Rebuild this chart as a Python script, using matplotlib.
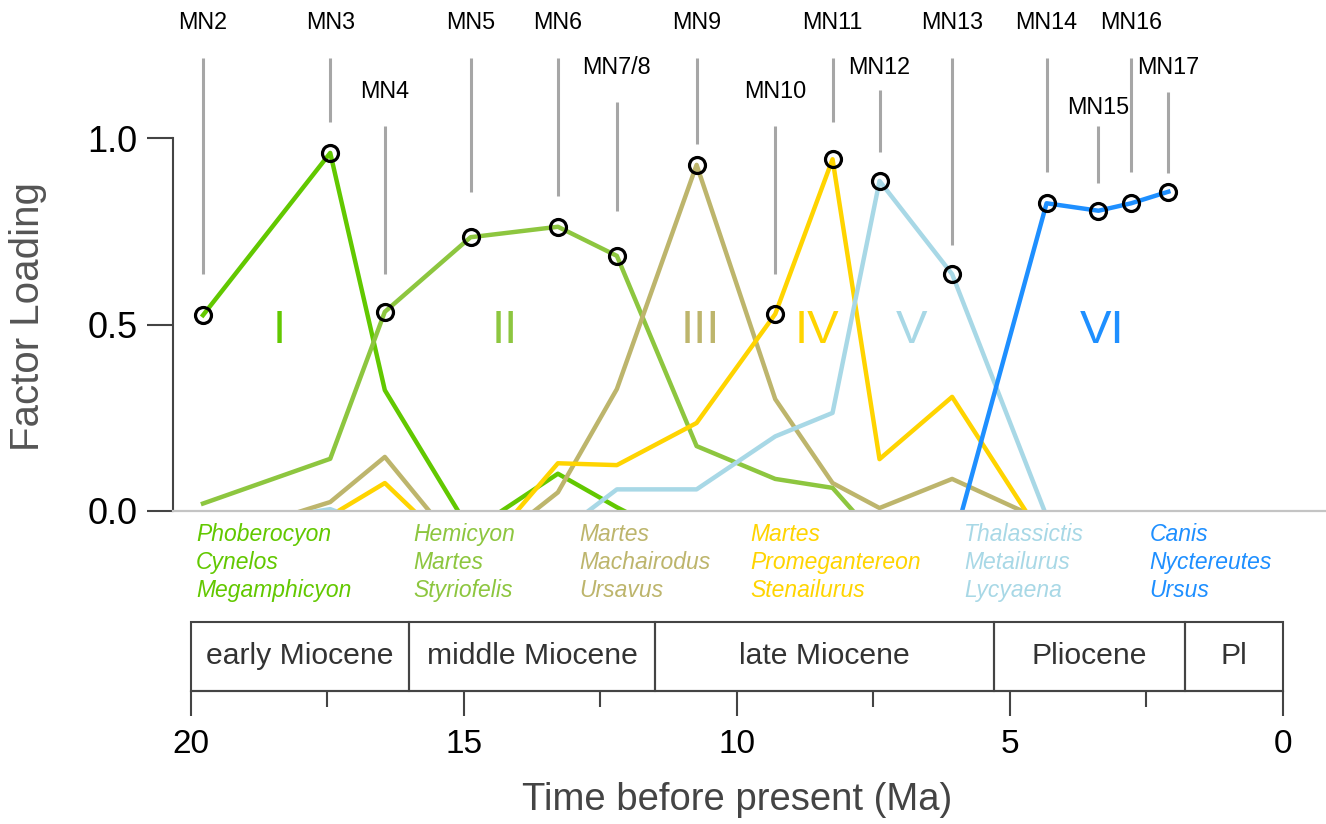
import numpy as np
import matplotlib.pyplot as plt
from matplotlib.patches import Rectangle

plt.rcParams['font.family'] = ['Liberation Sans', 'DejaVu Sans']

# MN zones: age (Ma), label height, guide line top/bottom (factor loading units)
mn_names = ['MN2', 'MN3', 'MN4', 'MN5', 'MN6', 'MN7/8', 'MN9', 'MN10',
            'MN11', 'MN12', 'MN13', 'MN14', 'MN15', 'MN16', 'MN17']
mn_age = [19.78, 17.45, 16.45, 14.88, 13.28, 12.2, 10.74, 9.30,
          8.25, 7.39, 6.06, 4.33, 3.38, 2.78, 2.10]
mn_label_y = [1.31, 1.31, 1.125, 1.31, 1.31, 1.19, 1.31, 1.125,
              1.31, 1.19, 1.31, 1.31, 1.083, 1.31, 1.19]
mn_line_top = [1.214, 1.214, 1.032, 1.214, 1.214, 1.097, 1.214, 1.032,
               1.214, 1.129, 1.214, 1.214, 1.032, 1.214, 1.123]
mn_line_bottom = [0.635, 1.043, 0.635, 0.855, 0.845, 0.804, 0.984, 0.635,
                  1.043, 0.962, 0.713, 0.909, 0.879, 0.909, 0.906]

# factor loadings per MN zone (negatives fall below the axis and are clipped)
factor_names = ['I', 'II', 'III', 'IV', 'V', 'VI']
factor_colors = ['#62c800', '#8dc63f', '#bdb56c', '#ffd400', '#a8d8e6', '#1e8fff']
load_I = [0.525, 0.96, 0.324, -0.055, 0.10, 0.01, -0.1, -0.1, -0.1, -0.1, -0.1, -0.1, -0.1, -0.1, -0.1]
load_II = [0.02, 0.14, 0.534, 0.734, 0.762, 0.684, 0.174, 0.086, 0.062, -0.08, -0.1, -0.1, -0.1, -0.1, -0.1]
load_III = [-0.083, 0.024, 0.145, -0.135, 0.05, 0.327, 0.928, 0.30, 0.075, 0.008, 0.086, -0.03, -0.1, -0.1, -0.1]
load_IV = [-0.1, -0.013, 0.075, -0.145, 0.128, 0.123, 0.236, 0.528, 0.943, 0.139, 0.306, -0.087, -0.1, -0.1, -0.1]
load_V = [-0.05, 0.005, -0.05, -0.1, -0.062, 0.058, 0.058, 0.20, 0.263, 0.885, 0.635, -0.014, -0.1, -0.1, -0.1]
load_VI = [-0.1, -0.1, -0.1, -0.1, -0.1, -0.1, -0.1, -0.1, -0.1, -0.1, -0.097, 0.825, 0.805, 0.825, 0.856]
loads = [load_I, load_II, load_III, load_IV, load_V, load_VI]

# factor with highest loading in each MN zone (index into loads)
mn_dominant = [0, 0, 1, 1, 1, 1, 2, 3, 3, 4, 4, 5, 5, 5, 5]

numeral_age = [18.39, 14.26, 10.68, 8.54, 6.8, 3.32]
numeral_y = 0.483

taxa = [['Phoberocyon', 'Cynelos', 'Megamphicyon'],
        ['Hemicyon', 'Martes', 'Styriofelis'],
        ['Martes', 'Machairodus', 'Ursavus'],
        ['Martes', 'Promegantereon', 'Stenailurus'],
        ['Thalassictis', 'Metailurus', 'Lycyaena'],
        ['Canis', 'Nyctereutes', 'Ursus']]
taxa_age = [19.91, 15.93, 12.88, 9.76, 5.84, 2.44]
taxa_y = [-0.064, -0.139, -0.214]

epochs = ['early Miocene', 'middle Miocene', 'late Miocene', 'Pliocene', 'Pl']
epoch_bounds = [20, 16.0, 11.5, 5.3, 1.8, 0]

W, H = 1326, 824
fig = plt.figure(figsize=(W / 100, H / 100), dpi=100)

# main axes: left edge at x=173px, runs to right figure edge; y=0 at 511px
pxma = (1283 - 191) / 20.0
ax = fig.add_axes([173 / W, (H - 511) / H, 1 - 173 / W, 511 / H])
ax.set_xlim(20 + 18 / pxma, -(W - 1283) / pxma)
ax.set_ylim(0, 511 / 373)

for sp in ['top', 'right']:
    ax.spines[sp].set_visible(False)
ax.spines['left'].set_bounds(0, 1)
ax.spines['left'].set_color('#444444')
ax.spines['left'].set_linewidth(1.5)
ax.spines['bottom'].set_color('#c4c4c4')
ax.spines['bottom'].set_linewidth(1.6)
ax.set_xticks([])
ax.set_yticks([0, 0.5, 1.0])
ax.set_yticklabels(['0.0', '0.5', '1.0'])
ax.tick_params(axis='y', direction='out', length=18.5, width=1.5, color='#444444',
               labelsize=26, pad=7)

# MN guide lines and labels
for name, t, ly, top, bot in zip(mn_names, mn_age, mn_label_y, mn_line_top, mn_line_bottom):
    ax.plot([t, t], [bot, top], color='#a6a6a6', lw=2.2, zorder=1, solid_capstyle='butt')
    ax.text(t, ly, name, ha='center', va='center', fontsize=16.8, color='black')

for vals, c in zip(loads, factor_colors):
    ax.plot(mn_age, vals, color=c, lw=3.2, zorder=2)

dom_vals = [loads[k][i] for i, k in enumerate(mn_dominant)]
ax.plot(mn_age, dom_vals, ls='none', marker='o', ms=11.5, mfc='none', mec='black',
        mew=2.3, zorder=4)

for name, t, c in zip(factor_names, numeral_age, factor_colors):
    ax.text(t, numeral_y, name, ha='center', va='center', fontsize=34, color=c)

for names, t, c in zip(taxa, taxa_age, factor_colors):
    for nm, y in zip(names, taxa_y):
        ax.text(t, y, nm, ha='left', va='center', fontsize=16.5, style='italic', color=c)

# time scale axes with epoch boxes
ax2 = fig.add_axes([191 / W, (H - 690.5) / H, 1092 / W, 68.5 / H])
ax2.set_xlim(20, 0)
ax2.set_ylim(0, 1)
ax2.patch.set_visible(False)
for sp in ['top', 'right', 'left']:
    ax2.spines[sp].set_visible(False)
ax2.spines['bottom'].set_color('#444444')
ax2.spines['bottom'].set_linewidth(1.5)
ax2.set_yticks([])
ax2.set_xticks([20, 15, 10, 5, 0])
ax2.set_xticks([17.5, 12.5, 7.5, 2.5], minor=True)
ax2.tick_params(axis='x', which='major', direction='out', length=18, width=1.5,
                color='#444444', labelsize=24, pad=10)
ax2.tick_params(axis='x', which='minor', direction='out', length=11.5, width=1.5,
                color='#444444')

for i, name in enumerate(epochs):
    a, b = epoch_bounds[i], epoch_bounds[i + 1]
    ax2.add_patch(Rectangle((b, 0), a - b, 1, fill=False, ec='#444444', lw=1.5,
                            clip_on=False))
    ax2.text((a + b) / 2, 0.5, name, ha='center', va='center', fontsize=21.7, color='#333333')

fig.text(28 / W, 1 - 316 / H, 'Factor Loading', rotation=90, ha='center', va='center',
         fontsize=29, color='#555555')
fig.text(737 / W, 1 - 800 / H, 'Time before present (Ma)', ha='center', va='center',
         fontsize=27.5, color='#444444')

fig.savefig('out.png', dpi=100)
